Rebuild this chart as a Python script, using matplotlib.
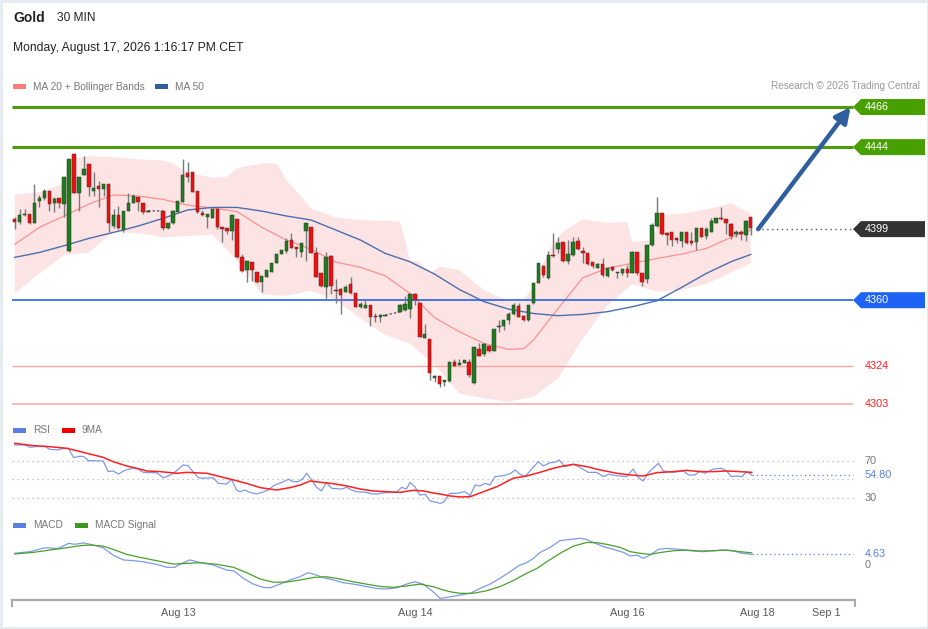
import numpy as np
import matplotlib
matplotlib.use("Agg")
import matplotlib.pyplot as plt
from matplotlib.patches import Polygon, Rectangle

nan = np.nan
W, H = 929, 629

# ---------------- data ----------------
opens = [4404.5,4402.7,4406.6,4407.1,4402.5,4414.6,4416.3,4419.9,4413.1,4415.9,
         4412.8,4387.0,4440.0,4419.0,4428.7,4434.7,4419.9,4422.6,4421.0,4423.8,
         4400.9,4406.7,4398.5,4408.9,4413.5,4416.4,4413.5,4408.2,nan,nan,
         4408.9,4399.4,4402.2,4408.6,4414.1,4429.6,4430.2,4419.9,4408.0,4405.4,
         4405.0,4409.8,4400.0,4399.4,4398.1,4404.5,4383.9,4376.5,4380.7,4375.2,
         4369.8,4372.9,4375.6,4380.2,4385.1,4387.1,4393.0,4389.3,4386.6,4397.9,
         4400.3,4386.0,4374.7,4367.4,4384.2,4365.5,4365.9,4364.6,4368.7,4363.7,
         4356.4,4355.9,4357.3,4351.5,4350.6,4351.3,nan,nan,4353.6,4354.6,
         4355.0,4363.2,4358.2,4339.0,4338.5,4317.1,4318.5,4315.2,4315.8,4326.2,
         4324.4,4325.8,4326.2,4314.3,4333.2,4330.4,4335.0,4332.2,4345.4,4345.9,
         4349.1,4352.4,4356.9,4351.5,4349.1,4358.2,4369.6,4378.7,4372.0,4384.8,
         4387.9,4391.7,4381.6,4384.8,4392.4,4387.1,4386.0,4381.1,4377.8,4379.8,
         4373.2,4378.0,4374.7,4374.7,4377.1,4375.1,4386.2,4374.7,4371.6,4390.2,
         4400.9,4408.0,4396.7,4397.2,4393.9,4392.4,4397.2,4392.4,4392.1,4399.4,
         4395.2,4397.6,4402.5,4404.9,4404.3,4401.8,4396.1,4397.2,4395.7,4405.4]
highs = [4405.5,4409.8,4410.0,4407.1,4423.8,4417.7,4421.0,4419.9,4416.8,4415.9,
         4427.8,4437.5,4440.0,4427.8,4439.3,4434.7,4430.2,4425.4,4423.6,4423.8,
         4409.8,4411.9,4408.9,4418.6,4418.3,4416.4,4413.5,4409.1,nan,nan,
         4409.5,4402.5,4409.5,4414.6,4437.3,4436.0,4430.2,4419.9,4409.5,4407.3,
         4409.8,4409.8,4400.0,4399.4,4406.7,4404.5,4385.5,4381.5,4380.9,4375.2,
         4373.2,4376.5,4380.6,4385.1,4387.5,4393.9,4396.7,4389.3,4391.5,4402.2,
         4400.3,4389.3,4374.7,4386.6,4384.8,4371.4,4366.5,4368.3,4372.9,4363.7,
         4359.1,4360.0,4357.3,4352.7,4352.4,4351.8,nan,nan,4357.7,4362.3,
         4363.2,4363.7,4358.2,4346.7,4338.5,4318.9,4318.5,4316.2,4326.2,4328.0,
         4328.0,4327.1,4328.0,4334.1,4336.3,4336.6,4335.3,4344.1,4349.1,4349.4,
         4353.6,4358.2,4358.2,4351.8,4357.3,4369.6,4380.5,4379.3,4387.1,4397.0,
         4394.5,4391.7,4393.0,4394.5,4394.8,4389.3,4386.0,4381.1,4380.2,4382.9,
         4378.0,4378.9,4375.6,4377.1,4379.3,4386.9,4386.2,4374.7,4390.2,4402.1,
         4416.8,4408.0,4397.6,4397.6,4394.3,4397.6,4397.6,4397.6,4399.8,4399.4,
         4400.3,4404.9,4405.2,4411.3,4404.3,4402.1,4398.5,4398.5,4404.0,4405.8]
lows = [4398.9,4401.8,4406.2,4401.8,4402.2,4411.3,4415.0,4409.1,4408.2,4410.4,
        4405.5,4386.6,4418.6,4409.1,4428.7,4417.3,4417.3,4411.3,4417.3,4397.2,
        4399.4,4399.1,4397.2,4408.9,4413.1,4408.9,4407.3,4408.2,nan,nan,
        4398.5,4399.1,4401.8,4408.2,4413.7,4424.7,4419.2,4408.0,4406.2,4399.4,
        4404.9,4399.1,4392.1,4396.1,4393.0,4382.9,4375.3,4370.0,4370.5,4369.6,
        4364.6,4372.5,4375.6,4380.2,4385.1,4385.7,4388.4,4383.9,4383.9,4381.7,
        4385.7,4372.5,4367.4,4360.6,4363.4,4358.2,4352.4,4364.3,4363.4,4356.0,
        4355.5,4355.5,4345.8,4348.2,4347.8,4351.3,nan,nan,4353.3,4354.2,
        4350.0,4357.3,4339.9,4339.0,4316.2,4315.2,4312.1,4312.8,4315.2,4323.8,
        4324.4,4325.8,4317.6,4313.9,4329.5,4329.5,4331.7,4332.2,4342.7,4343.6,
        4347.2,4351.8,4350.9,4348.7,4348.7,4357.9,4369.2,4372.9,4371.6,4383.5,
        4385.7,4381.1,4379.8,4384.4,4387.5,4380.5,4379.3,4377.4,4377.4,4372.9,
        4372.9,4376.2,4372.0,4373.8,4372.5,4374.7,4373.8,4367.7,4369.2,4389.9,
        4400.3,4395.7,4390.2,4389.9,4391.5,4389.3,4390.6,4390.2,4387.5,4394.5,
        4393.4,4397.2,4402.1,4404.0,4396.3,4393.4,4394.8,4393.0,4392.6,4395.7]
closes = [4402.7,4406.6,4407.5,4402.2,4413.5,4416.3,4419.9,4412.8,4415.5,4413.1,
          4427.8,4437.5,4418.6,4427.8,4431.8,4422.3,4421.7,4421.0,4423.6,4402.2,
          4406.7,4399.4,4408.9,4413.5,4417.2,4413.7,4408.2,4409.1,nan,nan,
          4399.4,4402.5,4408.7,4414.6,4428.7,4427.8,4419.5,4408.6,4406.7,4407.3,
          4409.8,4400.0,4398.9,4398.1,4406.7,4383.5,4376.2,4381.5,4376.5,4370.1,
          4373.2,4376.5,4380.6,4385.1,4387.5,4392.4,4388.4,4387.9,4391.5,4402.2,
          4385.7,4372.9,4367.7,4383.9,4367.7,4365.0,4362.8,4367.4,4363.7,4356.4,
          4357.7,4357.3,4350.9,4350.6,4351.8,4351.8,nan,nan,4357.3,4357.7,
          4363.2,4360.0,4339.9,4341.4,4320.2,4318.5,4313.9,4316.2,4326.2,4324.0,
          4325.8,4327.1,4318.9,4334.1,4329.5,4335.9,4332.2,4344.1,4345.9,4349.1,
          4352.2,4357.3,4350.9,4349.4,4357.3,4369.6,4380.5,4373.8,4384.8,4384.2,
          4391.2,4381.6,4385.3,4391.7,4387.9,4386.0,4379.8,4378.7,4379.8,4373.8,
          4377.8,4376.5,4375.2,4376.9,4375.1,4386.6,4375.1,4370.1,4390.2,4401.2,
          4407.6,4396.3,4395.7,4393.0,4393.0,4397.2,4391.2,4391.2,4399.8,4394.8,
          4398.8,4403.4,4405.2,4404.3,4402.1,4395.4,4397.2,4396.1,4403.6,4399.4]

upper_x = [0,5,10,11,15,20,25,30,32,34,36,40,43,45,50,53,55,58,60,65,70,75,78,79,80,
           82,84,86,90,95,100,103,105,107,109,111,115,120,124,125,129,131,135,140,145,149]
upper_v = [4418.2,4419.2,4424.1,4437.3,4439.1,4438.4,4437.3,4436.6,4435.1,4431.4,
           4429.6,4427.2,4427.8,4432.4,4435.1,4435.1,4425.9,4416.8,4410.4,4405.4,
           4404.0,4403.6,4403.1,4393.0,4382.0,4380.9,4374.7,4378.4,4376.5,4365.6,
           4359.2,4360.1,4367.4,4380.2,4391.2,4397.6,4404.4,4402.5,4402.9,4391.9,
           4393.0,4406.7,4407.6,4409.8,4413.1,4407.6]
lower_x = [0,5,10,15,20,25,30,35,40,45,50,55,60,65,70,75,80,85,90,95,100,105,110,
           115,120,125,130,135,140,145,149]
lower_v = [4363.7,4374.7,4384.8,4386.1,4397.6,4396.7,4394.5,4395.2,4395.9,4382.0,
           4363.2,4362.4,4365.2,4360.1,4350.0,4340.9,4336.3,4324.4,4308.8,4306.1,
           4304.3,4307.0,4317.1,4339.0,4357.3,4368.7,4364.6,4365.6,4368.9,4375.1,4380.2]
ma20_x = [0,5,10,15,20,25,30,35,40,45,50,55,60,65,70,75,80,85,90,95,100,103,105,110,
          115,120,125,130,135,140,145,149]
ma20_v = [4390.6,4400.0,4406.2,4412.8,4417.7,4417.2,4415.3,4412.2,4410.6,4408.6,
          4400.0,4393.0,4387.9,4380.9,4378.0,4373.4,4363.7,4350.4,4342.7,4336.3,
          4333.0,4333.4,4338.1,4355.5,4372.3,4377.6,4380.2,4382.9,4385.3,4388.4,
          4394.5,4398.5]
ma50_x = [0,5,10,15,20,25,30,35,40,45,50,55,60,65,70,75,80,85,90,95,100,105,110,
          115,120,125,130,135,140,145,149]
ma50_v = [4383.5,4386.2,4389.9,4393.9,4397.2,4400.7,4404.9,4409.5,4410.9,4410.9,
          4408.9,4406.2,4404.0,4398.5,4393.0,4385.7,4381.1,4374.3,4365.9,4359.2,
          4355.1,4352.7,4351.5,4352.2,4353.7,4356.4,4359.7,4367.0,4374.7,4381.1,4385.1]

rsi_x = [0.0,2.1,3.1,4.1,6.1,7.1,8.8,9.8,10.9,11.9,12.9,13.9,14.9,17.9,18.9,19.9,21.0,
         22.0,23.0,24.0,25.0,26.0,27.0,28.7,30.1,31.1,32.1,33.1,34.1,35.1,36.2,37.2,
         38.2,40.2,41.2,42.9,43.9,44.9,45.6,46.6,47.6,49.0,50.3,51.3,52.4,53.4,54.4,
         55.4,56.4,57.4,58.4,59.1,60.1,61.1,62.1,63.1,64.2,66.2,67.2,68.2,69.2,71.2,
         72.3,73.3,74.3,75.3,77.3,78.3,79.3,80.0,81.0,82.0,83.1,84.1,85.4,86.1,86.8,
         87.8,88.1,89.5,91.1,92.2,93.2,94.2,95.2,96.2,97.2,98.9,100.3,101.3,102.3,
         103.3,104.3,106.0,107.0,108.4,109.4,110.2,111.4,113.1,114.4,116.1,117.8,
         119.2,120.2,121.9,123.9,125.2,126.2,127.2,128.3,130.3,131.3,133.3,135.4,
         136.4,137.7,138.7,139.7,141.4,143.1,144.1,145.1,146.1,147.2,148.2,149.2]
rsi_v = [87.3,87.3,84.8,85.5,85.8,82.6,81.9,83.7,83.7,73.6,75.0,75.0,70.4,70.0,58.5,
         59.2,55.9,59.2,61.0,62.1,61.3,57.7,57.4,57.4,52.0,53.8,56.7,61.0,65.7,64.9,
         57.7,52.0,51.3,52.0,45.8,45.1,50.2,38.6,36.8,38.6,36.1,34.3,36.5,38.6,43.3,
         45.5,47.6,50.2,47.6,47.6,51.3,56.7,49.5,41.5,37.6,46.6,40.4,39.7,41.5,38.6,
         36.8,36.1,34.3,34.3,35.4,35.8,36.1,41.5,39.7,46.9,42.2,33.2,34.0,26.7,25.3,
         24.2,25.3,33.2,35.0,35.0,36.8,32.5,44.0,43.0,45.8,44.0,53.0,54.1,56.3,60.3,
         55.6,53.1,59.2,69.3,64.6,68.2,68.6,71.1,63.9,66.4,63.1,57.7,57.7,53.1,55.6,
         54.1,53.1,61.3,52.3,48.4,57.7,67.5,59.2,57.7,59.2,54.9,54.9,59.2,56.7,61.3,
         62.1,59.2,53.1,53.8,53.1,58.5,54.8]
rsima_x = [0.0,3.8,7.1,10.5,12.5,14.6,17.9,19.9,22.7,24.7,26.7,29.4,32.8,34.8,38.9,
           41.6,44.3,46.9,49.7,53.0,55.7,57.8,59.8,62.5,64.5,67.2,69.9,72.6,75.3,78.0,
           80.7,82.7,84.7,86.1,88.1,90.1,92.2,94.9,97.6,100.9,103.6,106.3,109.0,111.1,
           113.1,115.8,118.5,121.9,124.6,127.2,130.0,133.3,136.0,138.7,141.4,144.1,
           146.8,149.2]
rsima_v = [89.1,86.6,85.5,83.7,81.2,78.3,74.0,69.3,64.6,62.1,59.2,58.5,56.7,57.7,56.7,
           53.1,49.5,45.8,41.2,38.6,41.2,44.0,48.4,46.6,45.5,43.0,39.7,37.6,36.8,36.1,
           38.3,37.6,35.4,34.3,32.2,31.1,31.4,36.8,42.2,51.3,53.8,57.7,62.1,64.6,66.4,
           63.9,60.3,56.7,54.9,53.8,57.4,58.5,59.9,58.5,58.5,59.2,58.5,57.7]

macd_x = [0.0,3.1,6.1,8.8,10.9,12.2,13.9,15.9,17.9,19.9,22.0,24.0,26.0,28.7,30.8,32.4,
          33.8,35.5,37.5,40.2,42.9,44.3,46.3,48.3,50.3,51.7,53.7,55.7,57.7,59.4,61.1,
          62.5,64.5,66.5,68.6,70.6,73.3,75.3,77.3,79.3,81.0,82.7,84.7,86.1,87.4,89.5,
          92.2,94.2,96.2,98.2,100.3,102.0,103.6,105.0,106.3,108.4,110.4,112.4,114.4,
          115.8,117.1,119.2,121.2,123.2,124.6,125.9,127.3,128.6,130.3,132.0,134.7,
          136.7,139.4,141.4,143.4,145.5,147.2,149.2]
macd_v = [5.1,5.8,7.5,7.2,9.4,9.0,9.6,8.7,7.5,4.3,2.2,1.9,1.4,0.3,-1.0,-1.0,0.7,2.2,
          1.1,0.0,-2.2,-2.5,-5.8,-8.3,-9.7,-9.9,-8.3,-6.5,-5.1,-3.3,-4.4,-5.5,-6.5,
          -7.7,-8.3,-9.1,-10.2,-10.4,-9.9,-8.3,-7.3,-8.3,-11.6,-14.5,-14.1,-13.3,
          -12.3,-10.2,-8.3,-5.8,-2.9,-0.3,1.0,2.9,5.4,7.7,10.6,11.1,11.6,11.1,9.8,
          8.0,6.8,5.5,3.9,4.3,2.9,4.3,6.8,7.2,6.8,6.2,5.8,6.2,6.5,6.1,5.1,4.63]
signal_x = [0.0,3.8,7.1,10.5,13.2,15.2,17.9,19.9,22.7,25.4,28.7,32.1,34.8,37.5,40.9,
            44.3,46.9,49.7,52.4,55.1,57.8,60.5,63.1,65.9,68.6,71.2,73.9,76.6,79.3,
            82.0,84.7,86.1,88.1,90.1,92.8,95.5,98.2,100.9,103.6,105.7,107.7,110.4,
            113.1,115.8,117.8,119.8,122.5,124.6,126.6,128.6,130.6,133.3,136.0,138.7,
            141.4,144.1,146.8,149.2]
signal_v = [4.8,5.5,6.5,7.5,8.4,8.7,8.2,6.8,4.6,3.3,1.9,0.4,0.7,1.0,0.3,-1.0,-3.3,
            -6.1,-7.5,-7.4,-6.5,-5.4,-5.1,-6.1,-7.3,-8.3,-9.3,-9.7,-9.1,-8.3,-9.4,
            -10.4,-11.6,-12.3,-12.3,-11.2,-9.4,-6.8,-3.6,-1.5,1.4,5.1,8.2,9.8,9.7,
            9.0,7.7,5.8,5.1,4.6,5.4,6.2,6.5,6.1,6.2,6.5,5.8,5.3]

tick_pos = [33.1, 81.0, 124.1, 150.3, 164.2]
tick_labels = ["Aug 13", "Aug 14", "Aug 16", "Aug 18", "Sep 1"]

levels = [4466, 4444, 4399, 4360, 4324, 4303]
rsi_last, macd_last = 54.80, 4.63
target_price, last_price = 4466, 4399

# ---------------- figure ----------------
plt.rcParams['font.family'] = ['Liberation Sans', 'DejaVu Sans']
fig = plt.figure(figsize=(W / 100, H / 100), dpi=100)
fig.patch.set_facecolor('white')

def rect(x0, y0, x1, y1):
    return [x0 / W, 1 - y1 / H, (x1 - x0) / W, (y1 - y0) / H]

XL = (-0.55, 170.1)
XEND = 169.7

ax = fig.add_axes(rect(12, 95, 855, 415))
ax.set_xlim(XL); ax.set_ylim(4297.0, 4472.6); ax.axis('off')

# Bollinger band fill
ax.fill(np.concatenate([upper_x, lower_x[::-1]]),
        np.concatenate([upper_v, lower_v[::-1]]),
        color='#fde4e4', lw=0, zorder=1)
ax.plot(ma20_x, ma20_v, color='#ff9090', lw=0.9, zorder=2)
ax.plot(ma50_x, ma50_v, color='#4a6fae', lw=1.0, zorder=2)

# level lines
ax.hlines([4466, 4444], XL[0], XEND, color='#4c9c0c', lw=2.2, zorder=2)
ax.hlines(4360, XL[0], XEND, color='#2563eb', lw=1.2, zorder=2)
ax.hlines(4324, XL[0], XEND, color='#f5a3a3', lw=1.0, zorder=2)
ax.hlines(4303, XL[0], XEND, color='#f9b9b9', lw=1.4, zorder=2)

# candles
o = np.array(opens, float); hi = np.array(highs, float)
lo = np.array(lows, float); c = np.array(closes, float)
idx = np.arange(len(o))
valid = ~np.isnan(o)
up = valid & (c >= o)
dn = valid & (c < o)
ax.vlines(idx[valid], lo[valid], hi[valid], color='#7a7a7a', lw=1.0, zorder=3)
bb = np.minimum(o, c); bh = np.maximum(np.abs(c - o), 0.5)
ax.bar(idx[up], bh[up], bottom=bb[up], width=0.7, color='#1f7c1f',
       edgecolor='#2b3a2b', lw=0.35, zorder=4)
ax.bar(idx[dn], bh[dn], bottom=bb[dn], width=0.7, color='#f00f0f',
       edgecolor='#5a2a2a', lw=0.35, zorder=4)
# dashed connectors over gaps
i = 0
while i < len(o):
    if np.isnan(o[i]):
        j = i
        while j < len(o) and np.isnan(o[j]):
            j += 1
        ax.plot([i - 1, j], [c[i - 1], o[j]], color='#555555', lw=0.9,
                ls=(0, (2, 1.5)), zorder=3)
        i = j
    else:
        i += 1

# last price dotted + arrow
ax.hlines(last_price, 150.3, XEND, color='#555555', lw=1.0, ls=(0, (1, 2.5)), zorder=2)
ax.annotate('', xy=(169.2, target_price), xytext=(150.5, last_price),
            arrowprops=dict(arrowstyle='-|>,head_length=0.9,head_width=0.45',
                            color='#2f5f9f', lw=3.2, shrinkA=0, shrinkB=0),
            annotation_clip=False, zorder=6)

# RSI
ax2 = fig.add_axes(rect(12, 440, 855, 510))
ax2.set_xlim(XL); ax2.set_ylim(17.0, 92.7); ax2.axis('off')
ax2.hlines([70, 50, 30], XL[0], XEND, color='#b5b5b5', lw=0.9, ls=(0, (1, 3)))
ax2.plot(rsi_x, rsi_v, color='#7f99ea', lw=0.9)
ax2.plot(rsima_x, rsima_v, color='#ff2020', lw=1.1)
ax2.hlines(rsi_last, rsi_x[-1], XEND, color='#5b7fe0', lw=0.9, ls=(0, (1, 2.5)))

# MACD
ax3 = fig.add_axes(rect(12, 535, 855, 600))
ax3.set_xlim(XL); ax3.set_ylim(-15.2, 13.04)
ax3.patch.set_alpha(0)
for s in ['top', 'left', 'right']:
    ax3.spines[s].set_visible(False)
ax3.spines['bottom'].set_color('#a8a8a8'); ax3.spines['bottom'].set_linewidth(1.6)
ax3.set_yticks([])
ax3.set_xticks(tick_pos)
ax3.set_xticklabels(tick_labels, color='#5a5a5a', fontsize=7.8)
ax3.tick_params(axis='x', length=0, pad=6)
ax3.plot(macd_x, macd_v, color='#7f99ea', lw=0.9)
ax3.plot(signal_x, signal_v, color='#4aa02a', lw=0.9)
ax3.hlines(macd_last, macd_x[-1], XEND, color='#5b7fe0', lw=0.9, ls=(0, (1, 2.5)))

# overlay in pixel coords
ov = fig.add_axes([0, 0, 1, 1])
ov.set_xlim(0, W); ov.set_ylim(H, 0); ov.axis('off')

def py(a, v):
    return H - a.transData.transform((0, v))[1]

# border
ov.add_patch(Rectangle((1, 1), W - 2, H - 2, fill=False, ec='#e4eaee', lw=2))
# axis end ticks
ov.plot([12.5, 12.5], [600, 606], color='#a8a8a8', lw=1.4)
ov.plot([855, 855], [600, 606], color='#a8a8a8', lw=1.4)

# header
ov.text(13, 18, 'Gold', fontsize=10, fontweight='bold', color='#222222', va='center')
ov.text(57, 18, '30 MIN', fontsize=8.6, color='#222222', va='center')
ov.text(13, 48, 'Monday, August 17, 2026 1:16:17 PM CET', fontsize=8.7,
        color='#222222', va='center')
ov.text(920, 86, 'Research \u00a9 2026 Trading Central', fontsize=7.2,
        color='#9a9a9a', va='center', ha='right')

def legend_item(x, y, col, label):
    ov.add_patch(Rectangle((x, y - 2.5), 13, 5, color=col, lw=0))
    ov.text(x + 20, y, label, fontsize=7.3, color='#777777', va='center')

legend_item(13, 86.5, '#ff7a7a', 'MA 20 + Bollinger Bands')
legend_item(155, 86.5, '#2f5d9e', 'MA 50')
legend_item(13, 430, '#5b7fe0', 'RSI')
legend_item(62, 430, '#ee0000', '9MA')
legend_item(13, 525, '#5b7fe0', 'MACD')
legend_item(75, 525, '#3a9a1a', 'MACD Signal')

# level tags
tag_style = {4466: '#48a000', 4444: '#48a000', 4399: '#333333', 4360: '#1f63f5'}
for lv in levels:
    y = py(ax, lv)
    if lv in tag_style:
        ov.add_patch(Polygon([(853, y), (861, y - 8), (925, y - 8), (925, y + 8),
                              (861, y + 8)], closed=True, color=tag_style[lv], lw=0))
        ov.text(865, y, f'{lv}', fontsize=7.8, color='white', va='center')
    else:
        ov.text(865, y, f'{lv}', fontsize=7.8, color='#ff2020', va='center')

# RSI / MACD labels
ov.text(865, py(ax2, 70), '70', fontsize=7.8, color='#777777', va='center')
ov.text(865, py(ax2, 30), '30', fontsize=7.8, color='#777777', va='center')
ov.text(865, py(ax2, rsi_last), f'{rsi_last:.2f}', fontsize=7.8, color='#5b7fe0', va='center')
ov.text(865, py(ax3, macd_last), f'{macd_last:.2f}', fontsize=7.8, color='#5b7fe0', va='center')
ov.text(865, py(ax3, 0), '0', fontsize=7.8, color='#777777', va='center')

fig.savefig('out.png', dpi=100, facecolor='white')
